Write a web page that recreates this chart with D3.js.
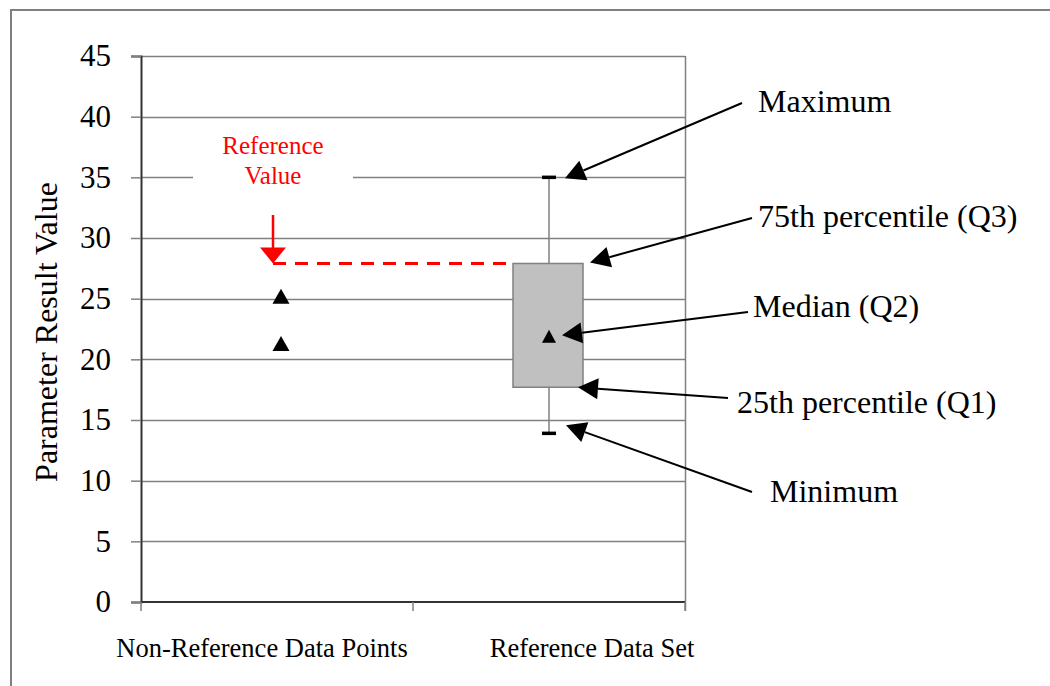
<!DOCTYPE html>
<html>
<head>
<meta charset="utf-8">
<script src="https://cdn.jsdelivr.net/npm/d3@7"></script>
<style>
  html, body { margin: 0; padding: 0; background: #fff; }
  svg { display: block; }
  text { font-family: "Liberation Serif", "Times New Roman", serif; }
</style>
</head>
<body>
<svg id="chart" width="1050" height="686"></svg>
<script>
// ---- data ----
const categories = ["Non-Reference Data Points", "Reference Data Set"];
const nonReferencePoints = [25.2, 21.3];
const boxStats = { min: 13.9, q1: 17.7, median: 21.9, q3: 27.9, max: 35.0 };
const referenceValue = 27.9;
const yTicks = [0, 5, 10, 15, 20, 25, 30, 35, 40, 45];
const annotationLabels = ["Maximum", "75th percentile (Q3)", "Median (Q2)", "25th percentile (Q1)", "Minimum"];
const annotationKeys = ["max", "q3", "median", "q1", "min"];

// ---- layout ----
const svg = d3.select("#chart");
const plot = { left: 141, right: 685, top: 56, bottom: 602 };

const y = d3.scaleLinear().domain([0, 45]).range([plot.bottom, plot.top]);
const x = d3.scaleBand().domain(categories).range([plot.left, plot.right]).padding(0);
const xc = c => x(c) + x.bandwidth() / 2;

// outer frame
svg.append("rect")
  .attr("x", 11).attr("y", 10).attr("width", 1060).attr("height", 700)
  .attr("fill", "none").attr("stroke", "#808080").attr("stroke-width", 2);

// gridlines
svg.append("g").selectAll("line").data(yTicks.filter(t => t > 0)).join("line")
  .attr("x1", plot.left).attr("x2", plot.right)
  .attr("y1", d => Math.round(y(d)) + 0.5).attr("y2", d => Math.round(y(d)) + 0.5)
  .attr("stroke", "#808080").attr("stroke-width", 1.5);

// right plot border
svg.append("line")
  .attr("x1", plot.right + 0.5).attr("x2", plot.right + 0.5)
  .attr("y1", plot.top).attr("y2", plot.bottom + 9)
  .attr("stroke", "#808080").attr("stroke-width", 1.5);

// Y axis
const yAxis = d3.axisLeft(y).tickValues(yTicks).tickSize(10).tickPadding(20).tickFormat(d3.format("d"));
const gy = svg.append("g").attr("transform", `translate(${plot.left},0)`).call(yAxis);
gy.select(".domain").attr("stroke", "#333").attr("stroke-width", 2);
gy.selectAll(".tick line").attr("stroke", "#808080").attr("stroke-width", 1.5);
gy.selectAll(".tick text").attr("font-size", 31).attr("fill", "#000")
  .attr("font-family", "Liberation Serif, Times New Roman, serif");

// X axis (category boundaries)
const boundaries = [plot.left, x(categories[1]), plot.right];
svg.append("line")
  .attr("x1", plot.left).attr("x2", plot.right)
  .attr("y1", plot.bottom).attr("y2", plot.bottom)
  .attr("stroke", "#333").attr("stroke-width", 2);
svg.append("g").selectAll("line").data(boundaries).join("line")
  .attr("x1", d => d).attr("x2", d => d)
  .attr("y1", plot.bottom).attr("y2", plot.bottom + 9)
  .attr("stroke", "#808080").attr("stroke-width", 1.5);

const catLabelOffsets = [-15, 43];
svg.append("g").selectAll("text").data(categories).join("text")
  .attr("x", (d, i) => xc(d) + catLabelOffsets[i])
  .attr("y", 657)
  .attr("text-anchor", "middle")
  .attr("font-size", 26.5)
  .text(d => d);

// Y title
svg.append("text")
  .attr("transform", "translate(57,332) rotate(-90)")
  .attr("text-anchor", "middle")
  .attr("font-size", 32)
  .text("Parameter Result Value");

// Reference value label (white box masking gridline)
const refX = xc(categories[0]) - 4;
svg.append("rect").attr("x", 193).attr("y", 128).attr("width", 160).attr("height", 66).attr("fill", "#fff");
svg.append("text").attr("x", refX).attr("y", 154).attr("text-anchor", "middle")
  .attr("font-size", 25).attr("fill", "#ff0000").text("Reference");
svg.append("text").attr("x", refX).attr("y", 184).attr("text-anchor", "middle")
  .attr("font-size", 25).attr("fill", "#ff0000").text("Value");

// Box
const bc = xc(categories[1]);
const boxW = 70;
// whisker
svg.append("line")
  .attr("x1", bc).attr("x2", bc)
  .attr("y1", y(boxStats.max)).attr("y2", y(boxStats.min))
  .attr("stroke", "#808080").attr("stroke-width", 1.5);
svg.append("rect")
  .attr("x", bc - boxW / 2 - 1).attr("y", y(boxStats.q3))
  .attr("width", boxW).attr("height", y(boxStats.q1) - y(boxStats.q3))
  .attr("fill", "#c0c0c0").attr("stroke", "#808080").attr("stroke-width", 1.5);
// caps
svg.append("g").selectAll("line").data([boxStats.max, boxStats.min]).join("line")
  .attr("x1", bc - 7).attr("x2", bc + 7)
  .attr("y1", d => y(d)).attr("y2", d => y(d))
  .attr("stroke", "#000").attr("stroke-width", 3.5);

// Reference dashed line and arrow
svg.append("line")
  .attr("x1", refX).attr("x2", bc - boxW / 2 - 1)
  .attr("y1", y(referenceValue)).attr("y2", y(referenceValue))
  .attr("stroke", "#ff0000").attr("stroke-width", 3)
  .attr("stroke-dasharray", "13,9");
svg.append("line")
  .attr("x1", refX).attr("x2", refX)
  .attr("y1", 215).attr("y2", y(referenceValue) - 14)
  .attr("stroke", "#ff0000").attr("stroke-width", 2.5);
{
  const ty = y(referenceValue);
  svg.append("path")
    .attr("d", `M${refX - 13},${ty - 16} L${refX + 13},${ty - 16} L${refX},${ty} Z`)
    .attr("fill", "#ff0000");
}

// triangle markers
const tri = (cx, cy, w, h) => `M${cx - w / 2},${cy + h / 2} L${cx + w / 2},${cy + h / 2} L${cx},${cy - h / 2} Z`;
svg.append("g").selectAll("path").data(nonReferencePoints).join("path")
  .attr("d", d => tri(xc(categories[0]) + 4, y(d), 17, 15))
  .attr("fill", "#000");
svg.append("path").attr("d", tri(bc, y(boxStats.median), 14, 13)).attr("fill", "#000");

// Annotations
const boxRight = bc + boxW / 2 - 1;
const tips = {
  max: [bc + 16, y(boxStats.max) + 1],
  q3: [boxRight + 7, y(boxStats.q3) - 1],
  median: [bc + 13, y(boxStats.median) - 1],
  q1: [boxRight - 5, y(boxStats.q1)],
  min: [bc + 17, y(boxStats.min) - 8]
};
const starts = {
  max: [742, 103], q3: [752, 218], median: [748, 312], q1: [728, 398], min: [752, 492]
};
const labelPos = {
  max: [758, 112], q3: [758, 227], median: [753, 317], q1: [737, 413], min: [770, 502]
};
annotationKeys.forEach((k, i) => {
  const [sx, sy] = starts[k];
  const [tx, ty] = tips[k];
  const dx = tx - sx, dy = ty - sy, L = Math.hypot(dx, dy);
  const ux = dx / L, uy = dy / L;
  const hl = 20, hw = 10.5;
  const bx = tx - ux * hl, by = ty - uy * hl;
  svg.append("line").attr("x1", sx).attr("y1", sy).attr("x2", bx).attr("y2", by)
    .attr("stroke", "#000").attr("stroke-width", 2);
  svg.append("path")
    .attr("d", `M${tx},${ty} L${bx - uy * hw},${by + ux * hw} L${bx + uy * hw},${by - ux * hw} Z`)
    .attr("fill", "#000");
  svg.append("text").attr("x", labelPos[k][0]).attr("y", labelPos[k][1])
    .attr("font-size", 32).text(annotationLabels[i]);
});
</script>
</body>
</html>
